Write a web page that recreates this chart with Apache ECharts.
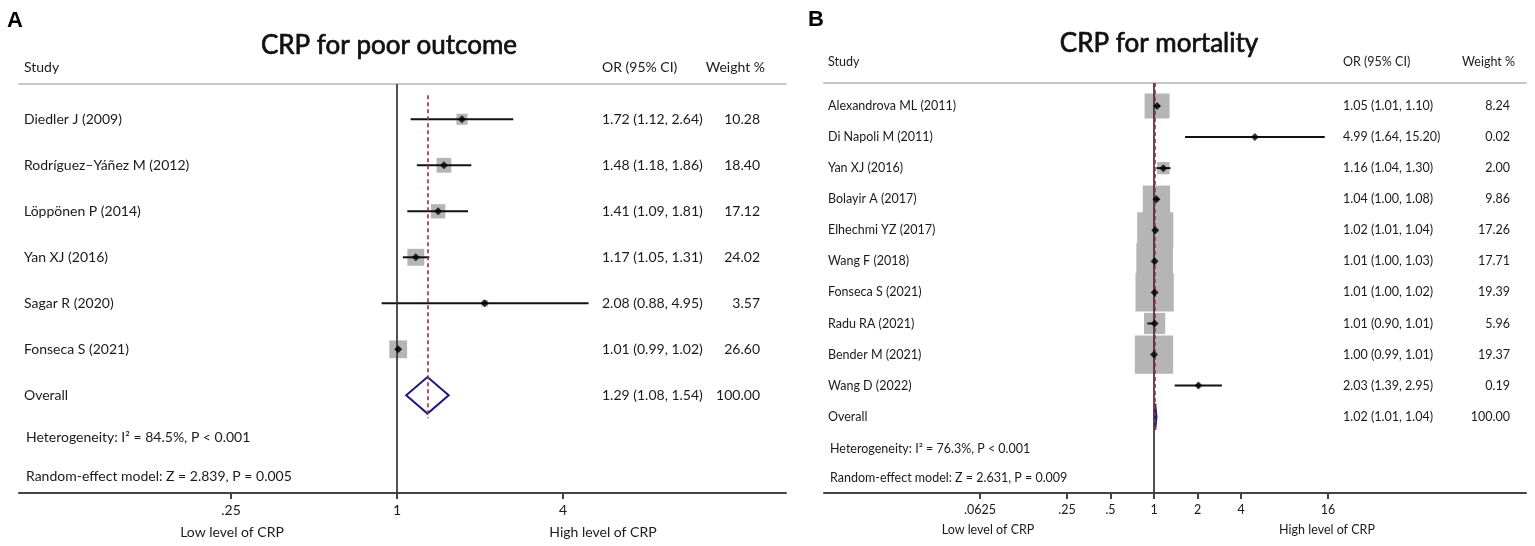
<!DOCTYPE html>
<html><head><meta charset="utf-8">
<script src="https://cdn.jsdelivr.net/npm/echarts@6/dist/echarts.min.js"></script>
<style>html,body{margin:0;padding:0;background:#fff}#c{width:1535px;height:546px}</style>
</head><body><div id="c"></div>
<script>
// ---------- DATA ----------
const studiesA = ['Diedler J (2009)', 'Rodríguez–Yáñez M (2012)', 'Löppönen P (2014)', 'Yan XJ (2016)', 'Sagar R (2020)', 'Fonseca S (2021)'];
const orA = [1.72, 1.48, 1.41, 1.17, 2.08, 1.01];
const loA = [1.12, 1.18, 1.09, 1.05, 0.88, 0.99];
const hiA = [2.64, 1.86, 1.81, 1.31, 4.95, 1.02];
const weightA = [10.28, 18.40, 17.12, 24.02, 3.57, 26.60];
const overallA = [1.29, 1.08, 1.54, 100.00]; // OR, lower, upper, weight
const statsA = ['Heterogeneity: I² = 84.5%, P < 0.001', 'Random-effect model: Z = 2.839, P = 0.005'];
const ticksA = [0.25, 1, 4];
const tickLabelsA = ['.25', '1', '4'];

const studiesB = ['Alexandrova ML (2011)', 'Di Napoli M (2011)', 'Yan XJ (2016)', 'Bolayir A (2017)', 'Elhechmi YZ (2017)', 'Wang F (2018)', 'Fonseca S (2021)', 'Radu RA (2021)', 'Bender M (2021)', 'Wang D (2022)'];
const orB = [1.05, 4.99, 1.16, 1.04, 1.02, 1.01, 1.01, 1.01, 1.00, 2.03];
const loB = [1.01, 1.64, 1.04, 1.00, 1.01, 1.00, 1.00, 0.90, 0.99, 1.39];
const hiB = [1.10, 15.20, 1.30, 1.08, 1.04, 1.03, 1.02, 1.01, 1.01, 2.95];
const weightB = [8.24, 0.02, 2.00, 9.86, 17.26, 17.71, 19.39, 5.96, 19.37, 0.19];
const overallB = [1.02, 1.01, 1.04, 100.00];
const statsB = ['Heterogeneity: I² = 76.3%, P < 0.001', 'Random-effect model: Z = 2.631, P = 0.009'];
const ticksB = [0.0625, 0.25, 0.5, 1, 2, 4, 16];
const tickLabelsB = ['.0625', '.25', '.5', '1', '2', '4', '16'];

// ---------- LAYOUT ----------
const FONT = 'Lato, "Noto Sans", sans-serif';
const panels = [
  { letter: 'A', title: 'CRP for poor outcome', studies: studiesA, or: orA, lo: loA, hi: hiA, w: weightA, overall: overallA, stats: statsA, ticks: ticksA, tickLabels: tickLabelsA,
    gl: 19, gr: 786, gt: 84, gb: 493, xmin: -4.5542, xmax: 4.6867, ymin: -0.767, ymax: 8.124,
    fs: 14, tfs: 26, nameX: 24, orX: 602, wX: 760, hdrY: 67, titleX: 389, titleY: 46, letterX: 7, letterY: 21,
    statX: 26, statY: [437, 476], lowX: 232, highX: 603, axTitleY: 532, sqK: 3.45, dh: 18.3, dFill: 'rgba(0,0,0,0)', red: [-0.52, 6.5] },
  { letter: 'B', title: 'CRP for mortality', studies: studiesB, or: orB, lo: loB, hi: hiB, w: weightB, overall: overallB, stats: statsB, ticks: ticksB, tickLabels: tickLabelsB,
    gl: 824, gr: 1526, gt: 83, gb: 493, xmin: -7.5862, xmax: 8.5517, ymin: -0.740, ymax: 12.456,
    fs: 12.5, tfs: 26, nameX: 828, orX: 1343, wX: 1510, hdrY: 62, titleX: 1159, titleY: 44, letterX: 808, letterY: 20,
    statX: 830, statY: [449, 478], lowX: 988, highX: 1327, axTitleY: 530, sqK: 8.7, dh: 13, dFill: '#1c1c7c', red: [-0.74, 10.5] }
];

const grid = [], xAxis = [], yAxis = [], series = [], graphic = [];
const L2 = Math.log2;

panels.forEach((p, pi) => {
  const n = p.studies.length;
  grid.push({ left: p.gl, top: p.gt, width: p.gr - p.gl, height: p.gb - p.gt, containLabel: false });
  const tickVals = p.ticks.map(L2);
  const xb = xAxis.length;
  xAxis.push({
    gridIndex: pi, type: 'value', min: p.xmin, max: p.xmax, position: 'bottom',
    axisLine: { onZero: false, lineStyle: { color: '#444', width: 2 } },
    axisTick: { show: true, customValues: tickVals, length: 6, lineStyle: { color: '#444', width: 2 } },
    axisLabel: { customValues: tickVals, margin: 10, fontSize: p.fs, fontFamily: FONT, color: '#1a1a1a',
      formatter: v => { const i = tickVals.findIndex(t => Math.abs(t - v) < 1e-6); return i >= 0 ? p.tickLabels[i] : ''; } },
    splitLine: { show: false }
  });
  xAxis.push({
    gridIndex: pi, type: 'value', min: p.xmin, max: p.xmax, position: 'top',
    axisLine: { onZero: false, lineStyle: { color: '#c8c8c8', width: 2 } },
    axisTick: { show: false }, axisLabel: { show: false }, splitLine: { show: false }
  });
  const rowLabels = p.studies.concat(['Overall']);
  const orLabels = p.or.map((v, i) => v.toFixed(2) + ' (' + p.lo[i].toFixed(2) + ', ' + p.hi[i].toFixed(2) + ')')
    .concat([p.overall[0].toFixed(2) + ' (' + p.overall[1].toFixed(2) + ', ' + p.overall[2].toFixed(2) + ')']);
  const wLabels = p.w.map(v => v.toFixed(2)).concat([p.overall[3].toFixed(2)]);
  const rows = rowLabels.map((_, i) => i);
  const yb = yAxis.length;
  const mkY = (position, labels, align, margin) => ({
    gridIndex: pi, type: 'value', inverse: true, min: p.ymin, max: p.ymax, position,
    axisLine: { show: false }, axisTick: { show: false }, splitLine: { show: false },
    axisLabel: { inside: true, customValues: rows, align, margin, fontSize: p.fs, fontFamily: FONT, color: '#1a1a1a',
      formatter: v => labels[Math.round(v)] }
  });
  yAxis.push(mkY('left', rowLabels, 'left', p.nameX - p.gl));
  yAxis.push(mkY('right', orLabels, 'left', p.gr - p.orX));
  yAxis.push(mkY('right', wLabels, 'right', p.gr - p.wX));

  // squares
  series.push({
    type: 'custom', xAxisIndex: xb, yAxisIndex: yb, z: 1, silent: true,
    data: p.or.map((v, i) => [L2(v), i, p.w[i]]),
    renderItem: (params, api) => {
      const c = api.coord([api.value(0), api.value(1)]);
      const s = p.sqK * Math.sqrt(api.value(2));
      return { type: 'rect', shape: { x: c[0] - s / 2, y: c[1] - s / 2, width: s, height: s }, style: { fill: '#b5b5b5' } };
    }
  });
  // CI lines
  series.push({
    type: 'custom', xAxisIndex: xb, yAxisIndex: yb, z: 2, silent: true,
    data: p.lo.map((v, i) => [L2(v), L2(p.hi[i]), i]),
    renderItem: (params, api) => {
      const a = api.coord([api.value(0), api.value(2)]);
      const b = api.coord([api.value(1), api.value(2)]);
      return { type: 'line', shape: { x1: a[0], y1: a[1], x2: b[0], y2: b[1] }, style: { stroke: '#111', lineWidth: 2 } };
    }
  });
  // overall diamond
  series.push({
    type: 'custom', xAxisIndex: xb, yAxisIndex: yb, z: 3, silent: true,
    data: [[L2(p.overall[0]), L2(p.overall[1]), L2(p.overall[2]), n]],
    renderItem: (params, api) => {
      const y = api.value(3);
      const m = api.coord([api.value(0), y]), l = api.coord([api.value(1), y]), r = api.coord([api.value(2), y]);
      return { type: 'polygon', shape: { points: [[l[0], m[1]], [m[0], m[1] - p.dh], [r[0], m[1]], [m[0], m[1] + p.dh]] },
        style: { fill: p.dFill, stroke: '#1c1c7c', lineWidth: 2 } };
    }
  });
  // points + reference lines
  const ov = L2(p.overall[0]);
  series.push({
    type: 'scatter', xAxisIndex: xb, yAxisIndex: yb, z: 5, silent: true,
    symbol: 'diamond', symbolSize: 8, itemStyle: { color: '#000' },
    data: p.or.map((v, i) => [L2(v), i]),
    markLine: {
      silent: true, symbol: 'none', label: { show: false }, animation: false,
      data: [
        { xAxis: 0, lineStyle: { color: '#333', width: 1.7, type: 'solid' } },
        [{ coord: [ov, p.red[0]], lineStyle: { color: '#a82a36', width: 1.6, type: [4, 3] } }, { coord: [ov, p.red[1]] }]
      ]
    }
  });

  const t = (text, x, y, size, align, extra) => graphic.push({ type: 'text', x, y, silent: true,
    style: Object.assign({ text, fontSize: size, fontFamily: FONT, fill: '#1a1a1a', align, verticalAlign: 'middle' }, extra || {}) });
  t(p.letter, p.letterX, p.letterY, 22, 'left', { fontWeight: 'bold', fontFamily: '"Liberation Sans", Arial, sans-serif', fill: '#000' });
  t(p.title, p.titleX, p.titleY, p.tfs, 'center', { fill: '#111', stroke: '#111', lineWidth: 0.7 });
  t('Study', p.nameX, p.hdrY, p.fs, 'left');
  t('OR (95% CI)', p.orX, p.hdrY, p.fs, 'left');
  t('Weight %', p.wX + 5, p.hdrY, p.fs, 'right');
  t(p.stats[0], p.statX, p.statY[0], p.fs, 'left');
  t(p.stats[1], p.statX, p.statY[1], p.fs, 'left');
  t('Low level of CRP', p.lowX, p.axTitleY, p.fs, 'center');
  t('High level of CRP', p.highX, p.axTitleY, p.fs, 'center');
});

const chart = echarts.init(document.getElementById('c'), null, { renderer: 'canvas' });
chart.setOption({ animation: false, backgroundColor: '#fff', grid, xAxis, yAxis, series, graphic });
</script>
</body></html>
